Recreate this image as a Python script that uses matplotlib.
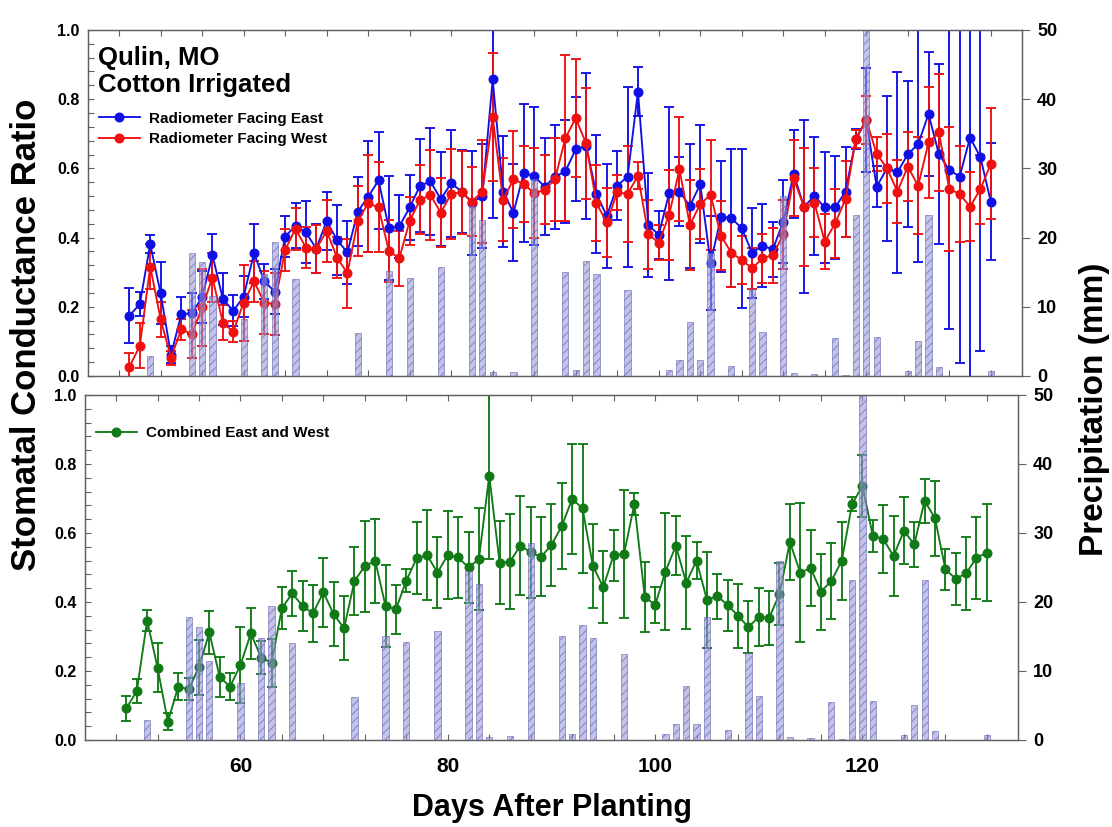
import matplotlib
matplotlib.use("Agg")
import matplotlib.pyplot as plt
from matplotlib.ticker import MultipleLocator, FormatStrFormatter
from matplotlib.lines import Line2D

plt.rcParams['font.family'] = ['Liberation Sans', 'DejaVu Sans']
plt.rcParams['font.weight'] = 'bold'
plt.rcParams['hatch.linewidth'] = 0.7

# days after planting (one reading per day)
days = [49, 50, 51, 52, 53, 54, 55, 56, 57, 58, 59, 60, 61, 62, 63, 64, 65, 66, 67, 68,
        69, 70, 71, 72, 73, 74, 75, 76, 77, 78, 79, 80, 81, 82, 83, 84, 85, 86, 87, 88,
        89, 90, 91, 92, 93, 94, 95, 96, 97, 98, 99, 100, 101, 102, 103, 104, 105, 106, 107, 108,
        109, 110, 111, 112, 113, 114, 115, 116, 117, 118, 119, 120, 121, 122, 123, 124, 125, 126, 127, 128,
        129, 130, 131, 132]

# radiometer facing east
east = [0.174, 0.208, 0.381, 0.239, 0.061, 0.179, 0.181, 0.227, 0.349, 0.222, 0.188, 0.229, 0.355, 0.273, 0.244, 0.403, 0.434, 0.415, 0.368, 0.448,
        0.393, 0.357, 0.475, 0.518, 0.565, 0.427, 0.432, 0.487, 0.550, 0.562, 0.511, 0.557, 0.533, 0.501, 0.520, 0.857, 0.533, 0.472, 0.586, 0.578,
        0.547, 0.576, 0.591, 0.655, 0.665, 0.526, 0.462, 0.550, 0.576, 0.822, 0.436, 0.408, 0.528, 0.533, 0.491, 0.554, 0.326, 0.460, 0.456, 0.427,
        0.356, 0.376, 0.366, 0.446, 0.584, 0.489, 0.520, 0.487, 0.487, 0.533, 0.685, 0.740, 0.547, 0.600, 0.588, 0.641, 0.670, 0.757, 0.641, 0.595,
        0.576, 0.689, 0.632, 0.504]
east_err = [0.08, 0.035, 0.025, 0.09, 0.025, 0.05, 0.06, 0.075, 0.06, 0.075, 0.045, 0.06, 0.085, 0.05, 0.065, 0.06, 0.065, 0.09, 0.07, 0.085,
            0.10, 0.09, 0.10, 0.16, 0.14, 0.15, 0.09, 0.095, 0.135, 0.155, 0.135, 0.155, 0.12, 0.15, 0.15, 0.40, 0.16, 0.14, 0.20, 0.20,
            0.14, 0.15, 0.15, 0.15, 0.21, 0.17, 0.15, 0.10, 0.26, 0.07, 0.15, 0.07, 0.25, 0.10, 0.18, 0.17, 0.135, 0.16, 0.20, 0.23,
            0.13, 0.12, 0.08, 0.12, 0.127, 0.25, 0.17, 0.16, 0.15, 0.13, 0.03, 0.15, 0.06, 0.21, 0.29, 0.21, 0.34, 0.18, 0.26, 0.46,
            0.54, 0.75, 0.56, 0.17]

# radiometer facing west
west = [0.027, 0.087, 0.316, 0.164, 0.053, 0.135, 0.121, 0.198, 0.284, 0.154, 0.128, 0.212, 0.273, 0.212, 0.208, 0.364, 0.425, 0.371, 0.367, 0.419,
        0.342, 0.297, 0.448, 0.499, 0.487, 0.361, 0.340, 0.448, 0.509, 0.523, 0.472, 0.526, 0.531, 0.504, 0.533, 0.748, 0.509, 0.568, 0.555, 0.528,
        0.538, 0.568, 0.687, 0.745, 0.672, 0.499, 0.444, 0.531, 0.526, 0.579, 0.409, 0.385, 0.465, 0.597, 0.436, 0.497, 0.523, 0.405, 0.356, 0.335,
        0.311, 0.340, 0.349, 0.409, 0.571, 0.489, 0.501, 0.388, 0.441, 0.511, 0.685, 0.740, 0.642, 0.600, 0.533, 0.605, 0.550, 0.675, 0.704, 0.540,
        0.526, 0.489, 0.540, 0.613]
west_err = [0.04, 0.065, 0.065, 0.05, 0.02, 0.03, 0.07, 0.11, 0.07, 0.05, 0.03, 0.11, 0.06, 0.09, 0.09, 0.06, 0.06, 0.06, 0.07, 0.09,
            0.06, 0.10, 0.10, 0.14, 0.13, 0.09, 0.08, 0.07, 0.10, 0.13, 0.10, 0.13, 0.12, 0.10, 0.15, 0.185, 0.12, 0.14, 0.11, 0.13,
            0.10, 0.12, 0.24, 0.17, 0.16, 0.11, 0.10, 0.05, 0.14, 0.04, 0.10, 0.05, 0.13, 0.15, 0.13, 0.10, 0.16, 0.10, 0.10, 0.07,
            0.06, 0.07, 0.08, 0.10, 0.11, 0.17, 0.10, 0.08, 0.10, 0.11, 0.025, 0.07, 0.05, 0.10, 0.09, 0.10, 0.14, 0.16, 0.17, 0.18,
            0.14, 0.10, 0.10, 0.16]

# combined east and west
combined = [0.092, 0.142, 0.346, 0.210, 0.053, 0.155, 0.147, 0.211, 0.312, 0.182, 0.155, 0.217, 0.309, 0.239, 0.224, 0.382, 0.425, 0.388, 0.367, 0.428,
            0.364, 0.324, 0.461, 0.504, 0.519, 0.388, 0.379, 0.462, 0.527, 0.536, 0.485, 0.536, 0.529, 0.500, 0.524, 0.766, 0.514, 0.517, 0.563, 0.544,
            0.531, 0.565, 0.620, 0.699, 0.671, 0.504, 0.443, 0.536, 0.539, 0.684, 0.415, 0.391, 0.488, 0.563, 0.456, 0.520, 0.406, 0.417, 0.391, 0.360,
            0.327, 0.357, 0.354, 0.423, 0.574, 0.485, 0.498, 0.430, 0.461, 0.519, 0.684, 0.736, 0.592, 0.583, 0.533, 0.606, 0.567, 0.693, 0.643, 0.495,
            0.467, 0.483, 0.528, 0.543]
combined_err = [0.036, 0.035, 0.03, 0.07, 0.024, 0.038, 0.032, 0.08, 0.062, 0.058, 0.039, 0.111, 0.075, 0.048, 0.07, 0.06, 0.065, 0.072, 0.083, 0.10,
                0.093, 0.092, 0.099, 0.132, 0.122, 0.118, 0.071, 0.033, 0.104, 0.13, 0.103, 0.127, 0.116, 0.102, 0.148, 0.24, 0.121, 0.138, 0.143, 0.131,
                0.115, 0.119, 0.124, 0.16, 0.187, 0.122, 0.105, 0.074, 0.185, 0.031, 0.102, 0.051, 0.17, 0.085, 0.135, 0.053, 0.139, 0.065, 0.074, 0.092,
                0.076, 0.084, 0.079, 0.091, 0.11, 0.202, 0.111, 0.11, 0.11, 0.113, 0.02, 0.089, 0.046, 0.099, 0.117, 0.097, 0.065, 0.063, 0.109, 0.06,
                0.076, 0.105, 0.119, 0.14]

# daily precipitation (mm)
rain_days = [51, 55, 56, 57, 60, 62, 63, 65, 71, 74, 76, 79, 82, 83, 84, 86, 88, 91, 92, 93,
             94, 97, 101, 102, 103, 104, 105, 107, 109, 110, 112, 113, 115, 117, 118, 119, 120, 121, 124, 125,
             126, 127, 132]
rain_mm = [2.9, 17.8, 16.4, 11.5, 8.2, 14.8, 19.4, 14.0, 6.2, 15.1, 14.2, 15.8, 24.5, 22.6, 0.5, 0.6, 28.5, 15.0, 0.8, 16.6,
           14.8, 12.4, 0.9, 2.3, 7.8, 2.3, 17.8, 1.5, 12.6, 6.4, 26.0, 0.4, 0.3, 5.5, 0.2, 23.2, 50.0, 5.6, 0.7, 5.0,
           23.2, 1.3, 0.7]

spine_col = '#606060'


def style_axes(ax, show_xlabels):
    ax.set_xlim(45, 135)
    ax.set_ylim(0, 1.0)
    ax.xaxis.set_major_locator(MultipleLocator(20))
    ax.xaxis.set_minor_locator(MultipleLocator(4))
    ax.yaxis.set_major_locator(MultipleLocator(0.2))
    ax.yaxis.set_minor_locator(MultipleLocator(0.04))
    ax.yaxis.set_major_formatter(FormatStrFormatter('%.1f'))
    ax.tick_params(axis='x', which='both', direction='in', top=True, length=4, width=0.8,
                   color=spine_col, labelsize=15, pad=12, labelbottom=show_xlabels)
    ax.tick_params(axis='y', which='both', direction='in', right=False, length=4, width=0.8,
                   color=spine_col, labelsize=11.5, pad=6)
    for s in ax.spines.values():
        s.set_color(spine_col)
        s.set_linewidth(0.9)


def add_rain(ax):
    # bars sit on top of the lines, half transparent, like the original
    ax2 = ax.twinx()
    ax2.bar(rain_days, rain_mm, width=0.6, color='#9c9cdc', edgecolor='#5656a6',
            hatch='////', alpha=0.6, linewidth=0.6)
    ax2.set_ylim(0, 50)
    ax2.yaxis.set_major_locator(MultipleLocator(10))
    ax2.tick_params(axis='y', direction='out', length=6, width=0.8, color=spine_col,
                    labelsize=13, pad=5)
    for s in ax2.spines.values():
        s.set_color(spine_col)
        s.set_linewidth(0.9)
    return ax2


fig = plt.figure(figsize=(11.12, 8.27), dpi=100)
ax_top = fig.add_axes([0.0791, 0.5454, 0.8399, 0.4184])
ax_bot = fig.add_axes([0.0764, 0.1052, 0.8390, 0.4172])

eb_kw = dict(marker='o', ms=6.2, lw=1.35, elinewidth=1.35, capsize=3.8, capthick=1.35)

# top panel: east / west radiometers
ax_top.errorbar(days, east, yerr=east_err, color='#1010e6', **eb_kw)
ax_top.errorbar(days, west, yerr=west_err, color='#f01010', **eb_kw)
style_axes(ax_top, False)
add_rain(ax_top)

ax_top.text(0.011, 0.955, 'Qulin, MO\nCotton Irrigated', transform=ax_top.transAxes,
            ha='left', va='top', fontsize=18.5, linespacing=1.2)
handles = [Line2D([], [], color='#1010e6', marker='o', ms=6.2, lw=1.35),
           Line2D([], [], color='#f01010', marker='o', ms=6.2, lw=1.35)]
ax_top.legend(handles, ['Radiometer Facing East', 'Radiometer Facing West'],
              loc='upper left', bbox_to_anchor=(0.0, 0.795), frameon=False,
              fontsize=11, handlelength=2.7, handletextpad=0.6, labelspacing=0.45,
              borderaxespad=0.3)

# bottom panel: combined
ax_bot.errorbar(days, combined, yerr=combined_err, color='#117a17', **eb_kw)
style_axes(ax_bot, True)
add_rain(ax_bot)
ax_bot.legend([Line2D([], [], color='#117a17', marker='o', ms=6.2, lw=1.35)],
              ['Combined East and West'], loc='upper left', bbox_to_anchor=(0.0, 0.94),
              frameon=False, fontsize=11, handlelength=2.7, handletextpad=0.6,
              borderaxespad=0.3)

fig.text(27 / 1112, 1 - 335 / 827, 'Stomatal Conductance Ratio', rotation=90,
         ha='center', va='center', fontsize=25)
fig.text(1095 / 1112, 1 - 409 / 827, 'Precipitation (mm)', rotation=90,
         ha='center', va='center', fontsize=24)
fig.text(552 / 1112, 1 - 808 / 827, 'Days After Planting', ha='center', va='center',
         fontsize=22)

fig.savefig('out.png', dpi=100)
